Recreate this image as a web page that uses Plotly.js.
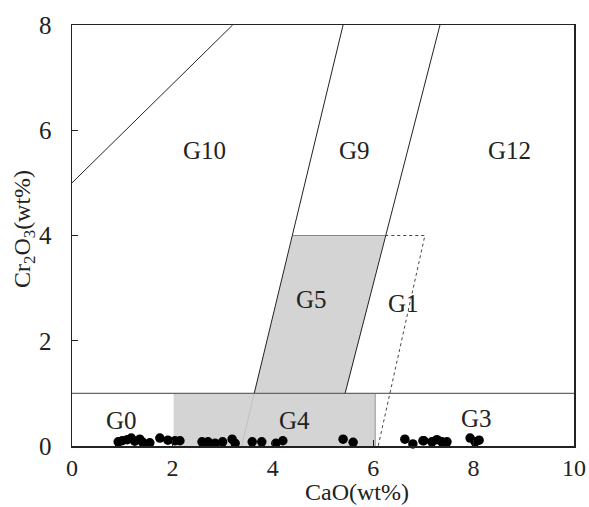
<!DOCTYPE html>
<html>
<head>
<meta charset="utf-8">
<script src="https://cdn.plot.ly/plotly-3.0.1.min.js"></script>
<style>html,body{margin:0;padding:0;background:#fff;}#chart{width:589px;height:507px;}</style>
</head>
<body>
<div id="chart"></div>
<script>
// Sample points (CaO, Cr2O3)
const caoPts = [0.92,1.0,1.1,1.18,1.25,1.35,1.41,1.55,1.75,1.91,2.05,2.15,2.07,2.59,2.71,2.85,3.0,3.19,3.25,3.59,3.78,4.06,4.2,5.4,5.6,6.63,6.79,6.99,7.01,7.17,7.27,7.37,7.47,7.93,8.03,8.11];
const crPts  = [0.08,0.10,0.12,0.15,0.09,0.13,0.07,0.06,0.15,0.11,0.10,0.10,-0.08,0.08,0.08,0.05,0.08,0.13,0.05,0.08,0.08,0.05,0.10,0.13,0.07,0.13,0.04,0.10,0.10,0.08,0.12,0.08,0.08,0.15,0.08,0.11];

// Field boundaries
const g10X = [0, 3.2], g10Y = [5, 8];
const g9LeftX = [3.38, 5.40], g9LeftY = [0, 8];
const g9RightX = [5.44, 7.33], g9RightY = [1, 8];
const g5X = [3.63, 4.40, 6.24, 5.44, 3.63], g5Y = [1, 4, 4, 1, 1];
const g4X = [2.03, 6.04, 6.04, 2.03, 2.03], g4Y = [0, 0, 1, 1, 0];
const g1X = [6.24, 7.03, 6.10], g1Y = [4, 4, 0];
const hLineX = [0, 10], hLineY = [1, 1];

// Field labels
const labelText = ['G10','G9','G12','G5','G1','G0','G4','G3'];
const labelX = [2.63, 5.62, 8.72, 4.78, 6.61, 0.98, 4.44, 8.05];
const labelY = [5.62, 5.62, 5.62, 2.78, 2.70, 0.48, 0.49, 0.53];

// Axis titles
const xTitle = 'CaO(wt%)';
const yTitle = 'Cr<sub>2</sub>O<sub>3</sub>(wt%)';

const lineCol = '#222';
const traces = [
  {x: g4X, y: g4Y, mode: 'lines', fill: 'toself', fillcolor: '#d4d4d4', line: {color: '#d4d4d4', width: 0.5}, hoverinfo: 'skip'},
  {x: [6.04, 6.04], y: [0, 1], mode: 'lines', line: {color: '#999', width: 1}, hoverinfo: 'skip'},
  {x: g5X, y: g5Y, mode: 'lines', fill: 'toself', fillcolor: '#d4d4d4', line: {color: '#d4d4d4', width: 0.5}, hoverinfo: 'skip'},
  {x: [4.40, 6.24], y: [4, 4], mode: 'lines', line: {color: '#888', width: 1}, hoverinfo: 'skip'},
  {x: hLineX, y: hLineY, mode: 'lines', line: {color: '#666', width: 1.2}, hoverinfo: 'skip'},
  {x: [3.38, 3.63], y: [0, 1], mode: 'lines', line: {color: '#bbb', width: 0.8}, hoverinfo: 'skip'},
  {x: [3.63, 5.40], y: [1, 8], mode: 'lines', line: {color: lineCol, width: 1}, hoverinfo: 'skip'},
  {x: g9RightX, y: g9RightY, mode: 'lines', line: {color: lineCol, width: 1}, hoverinfo: 'skip'},
  {x: g10X, y: g10Y, mode: 'lines', line: {color: lineCol, width: 1}, hoverinfo: 'skip'},
  {x: g1X, y: g1Y, mode: 'lines', line: {color: '#444', width: 1, dash: 'dot'}, hoverinfo: 'skip'},
  {x: caoPts, y: crPts, mode: 'markers', marker: {color: '#000', size: 9.5}, cliponaxis: false}
];

const fontFam = '"Liberation Serif", "Times New Roman", serif';
const annots = labelText.map((t, i) => ({
  x: labelX[i], y: labelY[i], text: t, showarrow: false,
  font: {family: fontFam, size: 25, color: '#222'}
}));
annots.push({xref: 'paper', yref: 'paper', x: 0.568, y: -0.143, text: xTitle, showarrow: false, borderpad: 0,
  xanchor: 'center', yanchor: 'bottom', font: {family: fontFam, size: 24, color: '#222'}});
annots.push({xref: 'paper', yref: 'paper', x: -0.096, y: 0.515, text: yTitle, showarrow: false, textangle: -90,
  xanchor: 'center', yanchor: 'middle', font: {family: fontFam, size: 24, color: '#222'}});

const layout = {
  width: 589, height: 507,
  margin: {l: 72, r: 15, t: 25, b: 61},
  paper_bgcolor: '#fff', plot_bgcolor: '#fff',
  showlegend: false,
  font: {family: fontFam, color: '#222', size: 24},
  xaxis: {
    range: [0, 10], tickvals: [0,2,4,6,8,10], ticks: 'inside', ticklen: 6, tickcolor: '#222',
    showgrid: false, zeroline: false, showline: true, mirror: true, linecolor: '#222', linewidth: 1.5,
    ticklabelstandoff: 0, tickfont: {family: fontFam, size: 24, color: '#222'}
  },
  yaxis: {
    range: [0, 8], tickvals: [0,2,4,6,8], ticks: 'inside', ticklen: 6, tickcolor: '#222',
    showgrid: false, zeroline: false, showline: true, mirror: true, linecolor: '#222', linewidth: 1.5,
    ticklabelstandoff: 14, tickfont: {family: fontFam, size: 25, color: '#222'}
  },
  annotations: annots
};

Plotly.newPlot('chart', traces, layout, {displayModeBar: false, staticPlot: true});
</script>
</body>
</html>
